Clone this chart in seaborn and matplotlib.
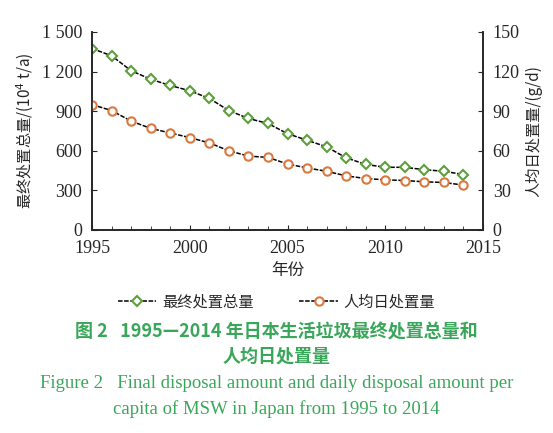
import numpy as np
import pandas as pd
import seaborn as sns
import matplotlib.pyplot as plt

years = list(range(1995, 2015))
final_disposal = [1375, 1320, 1207, 1142, 1095, 1055, 997, 905, 845, 807,
                  730, 680, 630, 547, 497, 475, 475, 457, 445, 420]
daily_per_capita = [95, 90.5, 82.5, 77, 73.5, 70, 66, 60, 56, 55,
                    50, 47, 44.5, 41, 39, 38, 37.5, 36.5, 36, 34]

sns.set_style("ticks")
plt.rcParams['font.family'] = ['Liberation Serif', 'Noto Sans CJK SC']
cjk = ['Noto Sans CJK SC', 'DejaVu Sans']
green = "#5f9e3c"
orange = "#d9793f"
caption = "#3aa65a"

df = pd.DataFrame({"year": years, "final": final_disposal, "daily": daily_per_capita})

fig = plt.figure(figsize=(5.53, 4.33), dpi=100)
ax = fig.add_axes([92 / 553, 1 - 230 / 433, (483 - 92) / 553, (230 - 32) / 433])
ax2 = ax.twinx()

sns.lineplot(data=df, x="year", y="final", ax=ax, color="black", lw=1.1,
             linestyle=(0, (3, 1)), marker="D", markersize=5.5,
             markerfacecolor="white", markeredgecolor=green, markeredgewidth=1.5)
sns.lineplot(data=df, x="year", y="daily", ax=ax2, color="black", lw=1.1,
             linestyle=(0, (3, 1)), marker="o", markersize=6,
             markerfacecolor="white", markeredgecolor=orange, markeredgewidth=1.5)

ax.set_xlim(1995, 2015)
ax.set_ylim(0, 1500)
ax2.set_ylim(0, 150)
ax.set_xticks([1995, 2000, 2005, 2010, 2015])
ax.set_xticks(range(1995, 2016), minor=True)
ax.set_yticks([0, 300, 600, 900, 1200, 1500])
ax.set_yticklabels(["0", "300", "600", "900", "1 200", "1 500"])
ax2.set_yticks([0, 30, 60, 90, 120, 150])
for a in (ax, ax2):
    a.tick_params(direction="in", labelsize=13, pad=7)
    a.tick_params(which="minor", direction="in", length=3)
    for s in a.spines.values():
        s.set_linewidth(1.2)
ax.spines["top"].set_visible(False)
ax2.spines["top"].set_visible(False)

ax.set_xlabel("年份", family=cjk, fontsize=12)
ax.set_ylabel("最终处置总量/(10$^4$ t/a)", family=cjk, fontsize=11)
ax2.set_ylabel("人均日处置量/(g/d)", family=cjk, fontsize=11)

h1 = ax.get_lines()[0]
h2 = ax2.get_lines()[0]
fig.legend([h1, h2], ["最终处置总量", "人均日处置量"], loc="center",
           bbox_to_anchor=(0.5, 1 - 302 / 433), ncol=2, frameon=False,
           prop={"family": cjk, "size": 11}, columnspacing=3, handlelength=2.5,
           handletextpad=0.4)

fig.text(0.5, 1 - 332 / 433, "图 2   1995—2014 年日本生活垃圾最终处置总量和",
         ha="center", va="center", color=caption, family=cjk, fontsize=13, weight="bold")
fig.text(0.5, 1 - 356 / 433, "人均日处置量",
         ha="center", va="center", color=caption, family=cjk, fontsize=13, weight="bold")
fig.text(0.5, 1 - 383 / 433,
         "Figure 2   Final disposal amount and daily disposal amount per",
         ha="center", va="center", color=caption, fontsize=13.5)
fig.text(0.5, 1 - 409 / 433, "capita of MSW in Japan from 1995 to 2014",
         ha="center", va="center", color=caption, fontsize=13.5)

fig.savefig("out.png", dpi=100)
